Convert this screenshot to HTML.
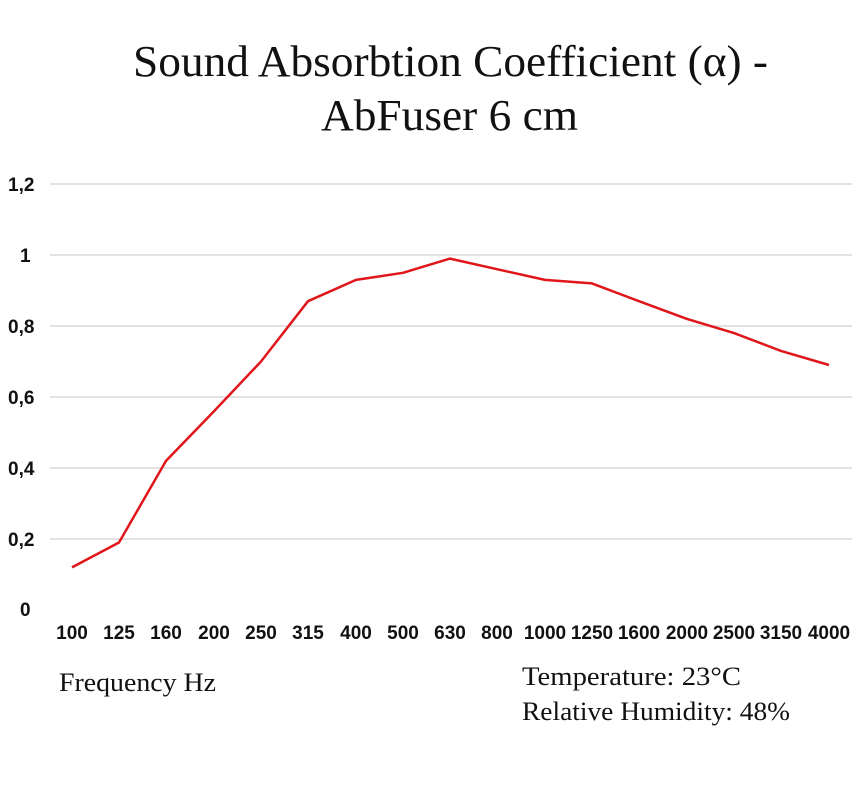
<!DOCTYPE html>
<html><head><meta charset="utf-8"><style>
body{margin:0;background:#fff;}
svg{display:block;}
.t{font-family:"Liberation Serif",serif;font-size:44px;fill:#111;}
.ax{font-family:"Liberation Sans Narrow","Liberation Sans",sans-serif;font-weight:bold;font-size:19px;fill:#111;}
.n{font-family:"Liberation Serif",serif;font-size:26px;fill:#111;}
</style></head><body>
<svg width="866" height="800" viewBox="0 0 866 800" xmlns="http://www.w3.org/2000/svg">
<rect width="866" height="800" fill="#fff"/>
<text class="t" x="133" y="76" textLength="635" lengthAdjust="spacingAndGlyphs">Sound Absorbtion Coefficient (α) -</text>
<text class="t" x="321" y="130" textLength="257" lengthAdjust="spacingAndGlyphs">AbFuser 6 cm</text>
<g stroke="#d9d9d9" stroke-width="1.5">
<line x1="50" x2="852" y1="184" y2="184"/>
<line x1="50" x2="852" y1="255" y2="255"/>
<line x1="50" x2="852" y1="326" y2="326"/>
<line x1="50" x2="852" y1="397" y2="397"/>
<line x1="50" x2="852" y1="468" y2="468"/>
<line x1="50" x2="852" y1="539" y2="539"/>
</g>
<g class="ax" text-anchor="start">
<text x="8" y="191">1,2</text>
<text x="20" y="262">1</text>
<text x="8" y="333">0,8</text>
<text x="8" y="404">0,6</text>
<text x="8" y="475">0,4</text>
<text x="8" y="546">0,2</text>
<text x="20" y="616">0</text>
</g>
<g class="ax" text-anchor="middle">
<text x="72" y="639">100</text><text x="119" y="639">125</text><text x="166" y="639">160</text>
<text x="214" y="639">200</text><text x="261" y="639">250</text><text x="308" y="639">315</text>
<text x="356" y="639">400</text><text x="403" y="639">500</text><text x="450" y="639">630</text>
<text x="497" y="639">800</text><text x="545" y="639">1000</text><text x="592" y="639">1250</text>
<text x="639" y="639">1600</text><text x="687" y="639">2000</text><text x="734" y="639">2500</text>
<text x="781" y="639">3150</text><text x="829" y="639">4000</text>
</g>
<polyline fill="none" stroke="#e0161b" stroke-width="2.5" stroke-linejoin="round"
points="72,567.4 119,542.5 166,460.9 214,411.2 261,361.5 308,301.2 356,279.9 403,272.8 450,258.6 497,269.2 545,279.9 592,283.4 639,301.2 687,318.9 734,333.1 781,350.9 829,365"/>
<text class="n" x="59" y="691" textLength="157" lengthAdjust="spacingAndGlyphs">Frequency Hz</text>
<text class="n" x="522" y="685" textLength="219" lengthAdjust="spacingAndGlyphs">Temperature: 23°C</text>
<text class="n" x="522" y="720" textLength="268" lengthAdjust="spacingAndGlyphs">Relative Humidity: 48%</text>
</svg>
</body></html>
